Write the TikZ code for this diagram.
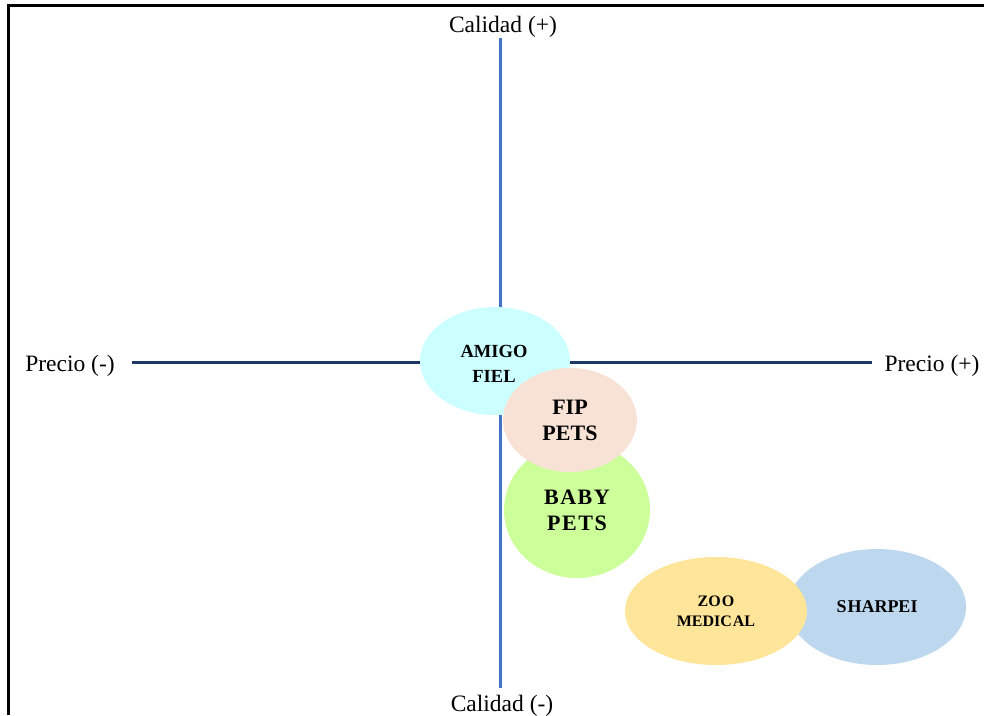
\documentclass[tikz,border=0pt]{standalone}
\usepackage{fontspec}
\setmainfont{Liberation Serif}
\usetikzlibrary{shapes.geometric}
\definecolor{axisblue}{HTML}{4472C4}
\definecolor{axisnavy}{HTML}{1F3864}
\definecolor{cyanfill}{HTML}{CCFFFF}
\definecolor{peachfill}{HTML}{F8E2D6}
\definecolor{greenfill}{HTML}{CCFF99}
\definecolor{yellowfill}{HTML}{FFE599}
\definecolor{bluefill}{HTML}{BDD7EE}
\tikzset{
  blob/.style={ellipse, draw=none, inner sep=0pt, align=center, font=\bfseries},
  axislabel/.style={font=\fontsize{23.5}{26}\selectfont, inner sep=0pt}
}
\begin{document}
\begin{tikzpicture}[x=1pt,y=-1pt]
\useasboundingbox (0,0) rectangle (984,715);
% frame
\draw[line width=3pt] (8.5,715) -- (8.5,5.5) -- (984,5.5);
% axis labels
\node[axislabel] (ctop) at (503,26.5) {Calidad (+)};
\node[axislabel] (cbot) at (502,706) {Calidad (-)};
\node[axislabel] (pleft) at (70,365.5) {Precio (-)};
\node[axislabel] (pright) at (932,365.5) {Precio (+)};
% axes
\coordinate (vtop) at (500,38);
\coordinate (vbot) at (500,688);
\coordinate (hleft) at (132,362);
\coordinate (hright) at (872,362);
\draw[axisblue, line width=3pt] (vtop) -- (vbot);
\draw[axisnavy, line width=3pt] (hleft) -- (hright);
% ellipses
\node[blob, fill=cyanfill, minimum width=150pt, minimum height=108pt] (amigo) at (495,361) {};
\node[font=\bfseries\fontsize{18.5}{25}\selectfont, align=center, inner sep=0pt] (amigotxt) at (494,364) {AMIGO\\FIEL};
\node[blob, fill=greenfill, minimum width=146pt, minimum height=136pt,
      font=\bfseries\fontsize{22}{26}\selectfont] (baby) at (577,510) {B\kern1.5ptA\kern1.5ptB\kern1.5ptY\\P\kern1.5ptE\kern1.5ptT\kern1.5ptS};
\node[blob, fill=peachfill, minimum width=134pt, minimum height=104pt,
      font=\bfseries\fontsize{22}{26}\selectfont] (fip) at (570,420) {FIP\\PETS};
\node[blob, fill=bluefill, minimum width=178pt, minimum height=116pt,
      font=\bfseries\fontsize{18}{20}\selectfont] (sharpei) at (877,607) {S\kern1ptHARPEI};
\node[blob, fill=yellowfill, minimum width=182pt, minimum height=108pt,
      font=\bfseries\fontsize{16}{20}\selectfont] (zoo) at (716,611) {ZO\kern1ptO\\MEDIC\kern1ptAL};
\end{tikzpicture}
\end{document}
